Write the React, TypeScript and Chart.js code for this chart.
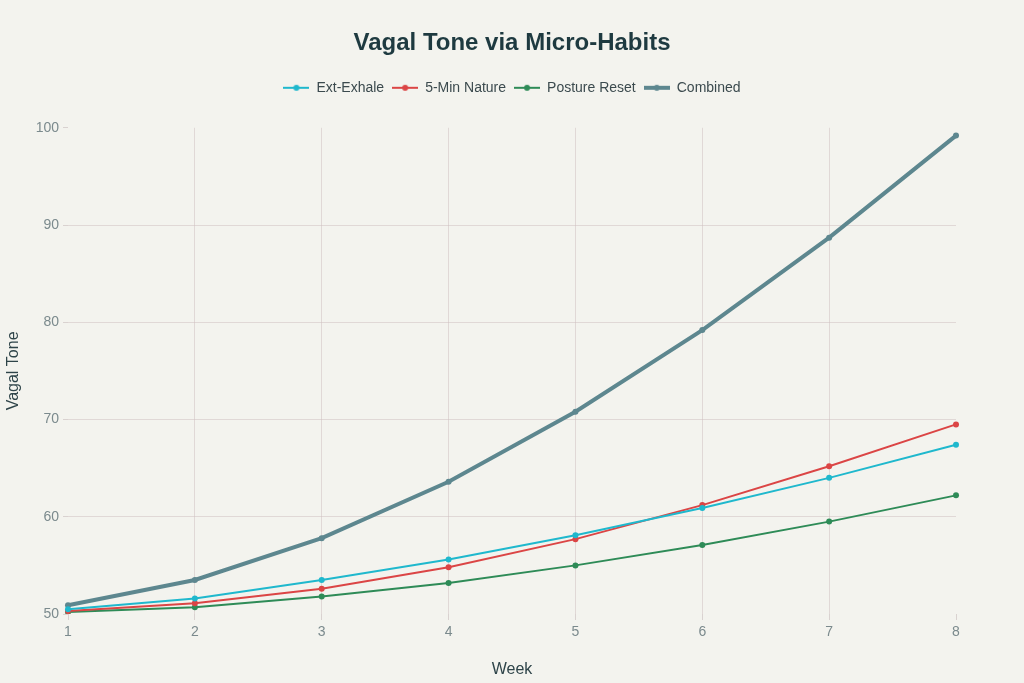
import React, { useEffect, useRef } from "react";
import { Chart, registerables } from "chart.js";

Chart.register(...registerables);

const weeks = ["1", "2", "3", "4", "5", "6", "7", "8"];
const extExhale = [50.5, 51.6, 53.5, 55.6, 58.1, 60.9, 64.0, 67.4];
const nature = [50.3, 51.1, 52.6, 54.8, 57.7, 61.2, 65.2, 69.5];
const posture = [50.2, 50.7, 51.8, 53.2, 55.0, 57.1, 59.5, 62.2];
const combined = [50.9, 53.5, 57.8, 63.6, 70.8, 79.2, 88.7, 99.2];
const yTicks = [50, 60, 70, 80, 90, 100];

const FONT = "'Liberation Sans', Arial, sans-serif";

function legendIcon(color: string, width: number): HTMLCanvasElement {
  const c = document.createElement("canvas");
  c.width = 26;
  c.height = 10;
  const ctx = c.getContext("2d")!;
  ctx.strokeStyle = color;
  ctx.lineWidth = width;
  ctx.beginPath();
  ctx.moveTo(0, 5);
  ctx.lineTo(26, 5);
  ctx.stroke();
  ctx.fillStyle = color;
  ctx.beginPath();
  ctx.arc(13, 5, 3, 0, Math.PI * 2);
  ctx.fill();
  return c;
}

export default function App() {
  const ref = useRef<HTMLCanvasElement | null>(null);
  useEffect(() => {
    if (!ref.current) return;
    const series = [
      { label: "Ext-Exhale", data: extExhale, color: "#1FB8CD", w: 2 },
      { label: "5-Min Nature", data: nature, color: "#DB4545", w: 2 },
      { label: "Posture Reset", data: posture, color: "#2E8B57", w: 2 },
      { label: "Combined", data: combined, color: "#5D878F", w: 4 },
    ];
    const icons = series.map((s) => legendIcon(s.color, s.w));
    const gridColor = (ctx: any) => {
      const n = ctx.scale.ticks.length;
      if (ctx.index === 0 || ctx.index === n - 1) return "rgba(0,0,0,0)";
      return "rgba(205,190,190,0.5)";
    };
    const chart = new Chart(ref.current, {
      type: "line",
      data: {
        labels: weeks,
        datasets: series.map((s) => ({
          label: s.label,
          data: s.data,
          borderColor: s.color,
          backgroundColor: s.color,
          borderWidth: s.w,
          pointRadius: 3,
          pointBorderWidth: 0,
          pointBackgroundColor: s.color,
          pointStyle: "circle",
          tension: 0,
          fill: false,
          yAxisID: "y",
        })),
      },
      options: {
        animation: false,
        responsive: false,
        layout: { padding: 0 },
        plugins: {
          title: {
            display: true,
            text: "Vagal Tone via Micro-Habits",
            color: "#1E3A40",
            font: { family: FONT, size: 24, weight: "bold" },
            padding: { top: 29, bottom: 15 },
          },
          legend: {
            display: true,
            labels: {
              usePointStyle: true,
              pointStyleWidth: 26,
              color: "#3B4A4E",
              font: { family: FONT, size: 14 },
              padding: 8,
              boxHeight: 10,
              generateLabels: (c: any) => {
                const items = Chart.defaults.plugins.legend.labels.generateLabels(c);
                items.forEach((it: any, i: number) => {
                  it.pointStyle = icons[i];
                });
                return items;
              },
            },
          },
          tooltip: { enabled: false },
        },
        scales: {
          x: {
            type: "category",
            offset: false,
            grid: { color: gridColor, tickColor: "rgba(205,195,195,0.7)", drawTicks: true, tickLength: 6 },
            border: { display: false },
            ticks: { color: "#7B8A8D", font: { family: FONT, size: 14 }, padding: 4 },
            title: {
              display: true,
              text: "Week",
              color: "#2E4449",
              font: { family: FONT, size: 16 },
              padding: { top: 10 },
            },
            afterFit: (s: any) => {
              s.height = 69;
            },
          },
          y: {
            min: 50,
            max: 100,
            afterBuildTicks: (s: any) => {
              s.ticks = yTicks.map((v) => ({ value: v }));
            },
            grid: { color: gridColor, tickColor: "rgba(205,195,195,0.7)", tickLength: 5 },
            border: { display: false },
            ticks: { color: "#7B8A8D", font: { family: FONT, size: 14 }, padding: 4 },
            title: {
              display: true,
              text: "Vagal Tone",
              color: "#2E4449",
              font: { family: FONT, size: 16 },
              padding: { bottom: 6 },
            },
            afterFit: (s: any) => {
              s.width = 68;
            },
          },
          yRight: {
            type: "linear",
            position: "right",
            min: 50,
            max: 100,
            grid: { display: false, drawTicks: false },
            border: { display: false },
            ticks: { display: false },
            afterFit: (s: any) => {
              s.width = 68;
            },
          },
        },
      },
      plugins: [
        {
          id: "bg",
          beforeLayout: (c: any) => {
            const l = c.legend;
            if (l && !l._patched) {
              const orig = l.fit.bind(l);
              l.fit = function () {
                orig();
                this.height += 23;
              };
              l._patched = true;
            }
          },
          beforeDraw: (c: any) => {
            const ctx = c.ctx;
            ctx.save();
            ctx.fillStyle = "#F3F3EE";
            ctx.fillRect(0, 0, c.width, c.height);
            ctx.restore();
          },
        },
      ],
    });
    return () => chart.destroy();
  }, []);
  return (
    <div style={{ position: "fixed", left: 0, top: 0, width: 1024, height: 683, background: "#F3F3EE" }}>
      <canvas ref={ref} width={1024} height={683} />
    </div>
  );
}
